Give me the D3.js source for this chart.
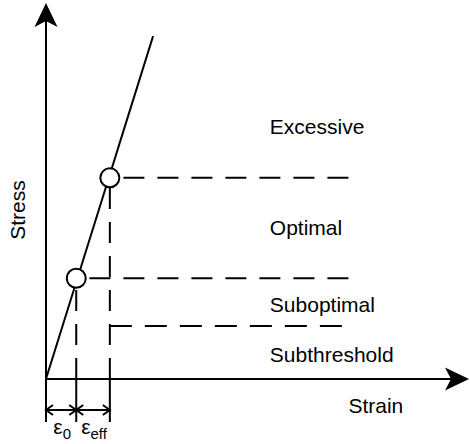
<!DOCTYPE html>
<html>
<head>
<meta charset="utf-8">
<script src="https://cdn.jsdelivr.net/npm/d3@7"></script>
<style>
  body { margin: 0; background: #fff; }
  svg { display: block; }
  text { font-family: "Liberation Sans", Arial, sans-serif; fill: #000; }
  .ink { stroke: #000; stroke-width: 2; fill: none; }
  .dash { stroke: #000; stroke-width: 2; fill: none; stroke-dasharray: 21,13; }
</style>
</head>
<body>
<div id="chart"></div>
<script>
// stress-strain curve (arbitrary units, 0..100 on both axes)
var curveStrain = [0, 25.5];
var curveStress = [0, 91.2];

// marked points on the curve
var pointStrain = [7.2, 15.2];
var pointStress = [26.8, 53.5];

// threshold lines: start strain, stress level, end strain
var thrStart = [15.2, 7.2, 15.2];
var thrStress = [53.5, 26.8, 14.1];
var thrEnd = 72;

// zone labels
var zoneNames = ["Excessive", "Optimal", "Suboptimal", "Subthreshold"];
var zoneStress = [67, 40.2, 19.9, 6.4];
var zoneStrain = 53.3;

// strain markers below the axis
var markStrain = [0, 7.2, 15.2];
var markLabels = [["ε", "0"], ["ε", "eff"]];

var W = 470, H = 444;
var svg = d3.select("#chart").append("svg")
	.attr("width", W)
	.attr("height", H);

var x = d3.scaleLinear().domain([0, 100]).range([46, 466]);
var y = d3.scaleLinear().domain([0, 100]).range([379, 3]);

function arrowHead(tx, ty, dir) {
	// dir: "up" or "right"; filled notched head
	var L = 24, hw = 11.5, notch = 6;
	if (dir == "up")
		return "M" + tx + "," + ty + "L" + (tx - hw) + "," + (ty + L) + "L" + tx + "," + (ty + L - notch) + "L" + (tx + hw) + "," + (ty + L) + "Z";
	return "M" + tx + "," + ty + "L" + (tx - L) + "," + (ty - hw) + "L" + (tx - L + notch) + "," + ty + "L" + (tx - L) + "," + (ty + hw) + "Z";
}

// axes
svg.append("line").attr("class", "ink")
	.attr("x1", x(0)).attr("y1", 422)
	.attr("x2", x(0)).attr("y2", y(96));
svg.append("path").attr("d", arrowHead(x(0), y(100), "up")).attr("fill", "#000");

svg.append("line").attr("class", "ink")
	.attr("x1", x(0)).attr("y1", y(0))
	.attr("x2", x(97)).attr("y2", y(0));
svg.append("path").attr("d", arrowHead(469, y(0), "right")).attr("fill", "#000");

// threshold dashed lines; the lowest one starts at its corner, the others from the right end
thrStress.forEach(function(s, i) {
	var l = svg.append("line").attr("class", "dash");
	if (i == thrStress.length - 1)
		l.attr("x1", x(thrStart[i])).attr("y1", y(s))
		 .attr("x2", x(thrEnd)).attr("y2", y(s))
		 .style("stroke-dasharray", "22,13");
	else
		l.attr("x1", x(thrEnd)).attr("y1", y(s))
		 .attr("x2", x(thrStart[i])).attr("y2", y(s));
});

// vertical dashed drops, drawn from the axis up to the points
pointStrain.forEach(function(e, i) {
	svg.append("line").attr("class", "dash")
		.attr("x1", x(e)).attr("y1", y(0))
		.attr("x2", x(e)).attr("y2", y(pointStress[i]));
});

// curve
var line = d3.line()
	.x(function(d, i) { return x(curveStrain[i]); })
	.y(function(d) { return y(d); });
svg.append("path").datum(curveStress)
	.attr("class", "ink")
	.attr("d", line);

// points
svg.selectAll("circle.pt").data(pointStrain).enter()
	.append("circle")
	.attr("class", "pt")
	.attr("cx", function(d) { return x(d); })
	.attr("cy", function(d, i) { return y(pointStress[i]); })
	.attr("r", 9.5)
	.attr("fill", "#fff")
	.attr("stroke", "#000")
	.attr("stroke-width", 2);

// zone labels
svg.selectAll("text.zone").data(zoneNames).enter()
	.append("text")
	.attr("class", "zone")
	.attr("x", x(zoneStrain))
	.attr("y", function(d, i) { return y(zoneStress[i]); })
	.attr("dy", "0.35em")
	.attr("font-size", 21)
	.text(function(d) { return d; });

// axis titles
svg.append("text")
	.attr("x", x(72))
	.attr("y", 413)
	.attr("font-size", 21)
	.text("Strain");

svg.append("text")
	.attr("transform", "translate(25,210) rotate(-90)")
	.attr("text-anchor", "middle")
	.attr("font-size", 21)
	.text("Stress");

// strain markers: ticks, dimension arrows, labels
var markY = 410;
markStrain.forEach(function(e) {
	svg.append("line").attr("class", "ink")
		.attr("x1", x(e)).attr("y1", y(0))
		.attr("x2", x(e)).attr("y2", 422);
});
svg.append("line").attr("class", "ink")
	.attr("x1", x(markStrain[0])).attr("y1", markY)
	.attr("x2", x(markStrain[2])).attr("y2", markY);

function chevron(px, dir) {
	var len = 7, hw = 5;
	return "M" + (px + dir * len) + "," + (markY - hw) + "L" + px + "," + markY + "L" + (px + dir * len) + "," + (markY + hw);
}
for (var i = 0; i < markStrain.length - 1; i++) {
	svg.append("path").attr("class", "ink").attr("d", chevron(x(markStrain[i]), 1));
	svg.append("path").attr("class", "ink").attr("d", chevron(x(markStrain[i + 1]), -1));
}

markLabels.forEach(function(lab, i) {
	var t = svg.append("text")
		.attr("x", (x(markStrain[i]) + x(markStrain[i + 1])) / 2 + 1)
		.attr("y", 434)
		.attr("text-anchor", "middle")
		.attr("font-size", 21);
	t.append("tspan").text(lab[0]);
	t.append("tspan").attr("font-size", 15).attr("dy", 5).text(lab[1]);
});
</script>
</body>
</html>
